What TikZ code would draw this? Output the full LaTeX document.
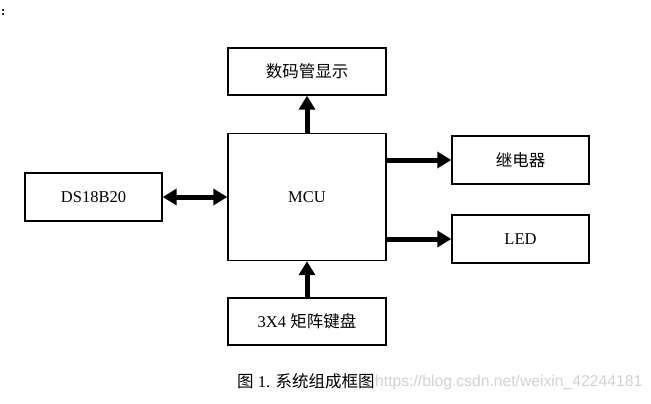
\documentclass[tikz,border=0pt]{standalone}
\usepackage{fontspec}
\setmainfont{Liberation Serif}
\newfontfamily\cjk{Noto Sans CJK SC}
\newfontfamily\wmfont{Liberation Sans}
\usetikzlibrary{arrows.meta}
\begin{document}
\begin{tikzpicture}[x=1pt,y=-1pt,
  blk/.style={draw,line width=1.4pt,inner sep=0pt,font=\fontsize{16.5}{18}\selectfont},
  bigarrow/.style={line width=5pt,-{Triangle[length=14pt,width=16pt]}},
  dblarrow/.style={line width=5pt,{Triangle[length=14pt,width=16pt]}-{Triangle[length=14pt,width=16pt]}}]
\useasboundingbox (0,0) rectangle (651,404);
\fill[white] (0,0) rectangle (651,404);
\node[blk,minimum width=158pt,minimum height=47pt] (disp) at (307,71.5) {\cjk 数码管显示};
\node[blk,minimum width=158pt,minimum height=127pt] (mcu) at (307,197) {MCU};
\node[blk,minimum width=137pt,minimum height=48pt] (ds) at (93.5,197) {DS18B20};
\node[blk,minimum width=137pt,minimum height=48pt] (relay) at (520.5,160) {\cjk 继电器};
\node[blk,minimum width=137pt,minimum height=48pt] (led) at (520.5,239) {LED};
\node[blk,minimum width=158pt,minimum height=47pt] (kb) at (307,321.5) {3X4 {\cjk 矩阵键盘}};
\draw[bigarrow] (mcu.north) -- (disp.south);
\draw[bigarrow] (kb.north) -- (mcu.south);
\draw[dblarrow] (ds.east) -- (ds.east -| mcu.west);
\draw[bigarrow] (mcu.east |- relay.west) -- (relay.west);
\draw[bigarrow] (mcu.east |- led.west) -- (led.west);
\node[font=\fontsize{16.5}{18}\selectfont,anchor=west,inner sep=0pt] (cap) at (237,381) {{\cjk 图} 1. {\cjk 系统组成框图}};
\node[font=\wmfont\fontsize{15.7}{17}\selectfont,text=gray!35,anchor=west,inner sep=0pt] (wm) at (375,382) {https://blog.csdn.net/weixin\_42244181};
\node[font=\bfseries\fontsize{13}{14}\selectfont,anchor=west,inner sep=0pt] (colon) at (1,13) {:};
\end{tikzpicture}
\end{document}
